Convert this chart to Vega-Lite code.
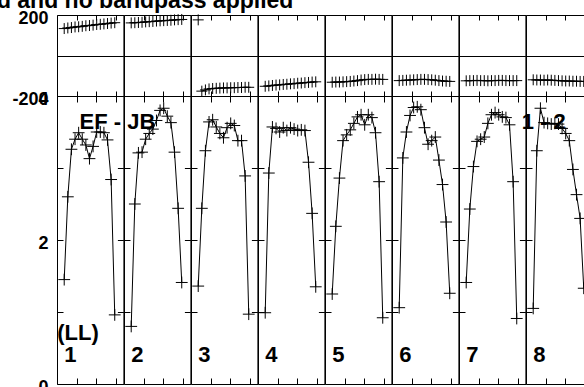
{
  "$schema": "https://vega.github.io/schema/vega-lite/v6.json",
  "autosize": "none",
  "params": [{"name": "width", "value": 527}, {"name": "height", "value": 372}],
  "padding": {"left": 57, "top": 15, "right": 0, "bottom": 0},
  "background": "white",
  "data": {"values": [
    {"band":1,"chan":1,"amp":1.45,"phase":133},{"band":1,"chan":2,"amp":2.60,"phase":136},{"band":1,"chan":3,"amp":3.26,"phase":138},{"band":1,"chan":4,"amp":3.40,"phase":141},{"band":1,"chan":5,"amp":3.49,"phase":142},{"band":1,"chan":6,"amp":3.40,"phase":144},{"band":1,"chan":7,"amp":3.32,"phase":147},{"band":1,"chan":8,"amp":3.13,"phase":148},{"band":1,"chan":9,"amp":3.30,"phase":150},{"band":1,"chan":10,"amp":3.50,"phase":153},{"band":1,"chan":11,"amp":3.50,"phase":154},{"band":1,"chan":12,"amp":3.49,"phase":156},{"band":1,"chan":13,"amp":3.39,"phase":158},{"band":1,"chan":14,"amp":2.84,"phase":160},{"band":1,"chan":15,"amp":0.96,"phase":162},
    {"band":2,"chan":1,"amp":0.80,"phase":161},{"band":2,"chan":2,"amp":2.50,"phase":162},{"band":2,"chan":3,"amp":3.21,"phase":163},{"band":2,"chan":4,"amp":3.22,"phase":164},{"band":2,"chan":5,"amp":3.40,"phase":166},{"band":2,"chan":6,"amp":3.48,"phase":167},{"band":2,"chan":7,"amp":3.54,"phase":168},{"band":2,"chan":8,"amp":3.66,"phase":170},{"band":2,"chan":9,"amp":3.80,"phase":171},{"band":2,"chan":10,"amp":3.83,"phase":172},{"band":2,"chan":11,"amp":3.72,"phase":173},{"band":2,"chan":12,"amp":3.63,"phase":174},{"band":2,"chan":13,"amp":3.22,"phase":176},{"band":2,"chan":14,"amp":2.44,"phase":177},{"band":2,"chan":15,"amp":1.41,"phase":178},
    {"band":3,"chan":1,"amp":1.36,"phase":176},{"band":3,"chan":2,"amp":2.44,"phase":-176},{"band":3,"chan":3,"amp":3.24,"phase":-170},{"band":3,"chan":4,"amp":3.64,"phase":-165},{"band":3,"chan":5,"amp":3.67,"phase":-163},{"band":3,"chan":6,"amp":3.57,"phase":-162},{"band":3,"chan":7,"amp":3.48,"phase":-161},{"band":3,"chan":8,"amp":3.42,"phase":-160},{"band":3,"chan":9,"amp":3.56,"phase":-160},{"band":3,"chan":10,"amp":3.62,"phase":-159},{"band":3,"chan":11,"amp":3.59,"phase":-159},{"band":3,"chan":12,"amp":3.38,"phase":-158},{"band":3,"chan":13,"amp":3.38,"phase":-158},{"band":3,"chan":14,"amp":2.89,"phase":-157},{"band":3,"chan":15,"amp":0.97,"phase":-157},
    {"band":4,"chan":1,"amp":0.99,"phase":-152},{"band":4,"chan":2,"amp":2.93,"phase":-150},{"band":4,"chan":3,"amp":3.57,"phase":-148},{"band":4,"chan":4,"amp":3.55,"phase":-146},{"band":4,"chan":5,"amp":3.50,"phase":-145},{"band":4,"chan":6,"amp":3.56,"phase":-143},{"band":4,"chan":7,"amp":3.52,"phase":-142},{"band":4,"chan":8,"amp":3.56,"phase":-140},{"band":4,"chan":9,"amp":3.54,"phase":-139},{"band":4,"chan":10,"amp":3.52,"phase":-137},{"band":4,"chan":11,"amp":3.53,"phase":-136},{"band":4,"chan":12,"amp":3.52,"phase":-134},{"band":4,"chan":13,"amp":3.08,"phase":-133},{"band":4,"chan":14,"amp":2.37,"phase":-131},{"band":4,"chan":15,"amp":1.35,"phase":-130},
    {"band":5,"chan":1,"amp":1.25,"phase":-132},{"band":5,"chan":2,"amp":2.19,"phase":-131},{"band":5,"chan":3,"amp":2.86,"phase":-131},{"band":5,"chan":4,"amp":3.38,"phase":-130},{"band":5,"chan":5,"amp":3.46,"phase":-129},{"band":5,"chan":6,"amp":3.53,"phase":-128},{"band":5,"chan":7,"amp":3.62,"phase":-126},{"band":5,"chan":8,"amp":3.71,"phase":-124},{"band":5,"chan":9,"amp":3.74,"phase":-121},{"band":5,"chan":10,"amp":3.60,"phase":-119},{"band":5,"chan":11,"amp":3.74,"phase":-118},{"band":5,"chan":12,"amp":3.70,"phase":-118},{"band":5,"chan":13,"amp":3.49,"phase":-117},{"band":5,"chan":14,"amp":2.81,"phase":-118},{"band":5,"chan":15,"amp":0.92,"phase":-118},
    {"band":6,"chan":1,"amp":1.06,"phase":-124},{"band":6,"chan":2,"amp":3.14,"phase":-123},{"band":6,"chan":3,"amp":3.50,"phase":-122},{"band":6,"chan":4,"amp":3.73,"phase":-121},{"band":6,"chan":5,"amp":3.84,"phase":-120},{"band":6,"chan":6,"amp":3.85,"phase":-119},{"band":6,"chan":7,"amp":3.81,"phase":-118},{"band":6,"chan":8,"amp":3.56,"phase":-118},{"band":6,"chan":9,"amp":3.33,"phase":-119},{"band":6,"chan":10,"amp":3.38,"phase":-120},{"band":6,"chan":11,"amp":3.43,"phase":-122},{"band":6,"chan":12,"amp":3.11,"phase":-124},{"band":6,"chan":13,"amp":2.77,"phase":-126},{"band":6,"chan":14,"amp":2.25,"phase":-127},{"band":6,"chan":15,"amp":1.26,"phase":-128},
    {"band":7,"chan":1,"amp":1.41,"phase":-125},{"band":7,"chan":2,"amp":2.43,"phase":-124},{"band":7,"chan":3,"amp":3.02,"phase":-124},{"band":7,"chan":4,"amp":3.37,"phase":-123},{"band":7,"chan":5,"amp":3.40,"phase":-124},{"band":7,"chan":6,"amp":3.43,"phase":-124},{"band":7,"chan":7,"amp":3.62,"phase":-125},{"band":7,"chan":8,"amp":3.74,"phase":-124},{"band":7,"chan":9,"amp":3.77,"phase":-124},{"band":7,"chan":10,"amp":3.74,"phase":-123},{"band":7,"chan":11,"amp":3.71,"phase":-123},{"band":7,"chan":12,"amp":3.70,"phase":-124},{"band":7,"chan":13,"amp":3.60,"phase":-124},{"band":7,"chan":14,"amp":2.81,"phase":-124},{"band":7,"chan":15,"amp":0.91,"phase":-124},
    {"band":8,"chan":1,"amp":1.05,"phase":-120},{"band":8,"chan":2,"amp":3.24,"phase":-121},{"band":8,"chan":3,"amp":3.83,"phase":-121},{"band":8,"chan":4,"amp":3.63,"phase":-122},{"band":8,"chan":5,"amp":3.62,"phase":-121},{"band":8,"chan":6,"amp":3.61,"phase":-122},{"band":8,"chan":7,"amp":3.62,"phase":-123},{"band":8,"chan":8,"amp":3.61,"phase":-124},{"band":8,"chan":9,"amp":3.55,"phase":-125},{"band":8,"chan":10,"amp":3.48,"phase":-126},{"band":8,"chan":11,"amp":3.38,"phase":-126},{"band":8,"chan":12,"amp":2.98,"phase":-127},{"band":8,"chan":13,"amp":2.63,"phase":-127},{"band":8,"chan":14,"amp":2.30,"phase":-128},{"band":8,"chan":15,"amp":1.33,"phase":-128}
  ]},
  "spacing": 81,
  "bounds": "flush",
  "vconcat": [
    {
      "facet": {"column": {"field": "band", "type": "ordinal", "header": null}},
      "spacing": 0,
      "bounds": "flush",
      "spec": {
        "width": 66.4,
        "height": 81,
        "encoding": {
          "x": {"field": "chan", "type": "quantitative", "scale": {"domain": [-1, 17.4], "nice": false, "zero": false},
                "axis": {"values": [4.47, 9.83, 15.3], "labels": false, "ticks": false, "domain": false, "title": null, "grid": true, "gridColor": "black", "gridWidth": 1, "gridDash": [5, 71], "gridOpacity": 1}},
          "y": {"field": "phase", "type": "quantitative", "scale": {"domain": [-200, 200], "nice": false, "zero": false},
                "axis": {"values": [-200, 0, 200], "labelExpr": "datum.value == 200 ? '200' : (datum.value == -200 ? '-200' : '')", "ticks": false, "domain": false, "title": null, "grid": true, "gridColor": "black", "gridWidth": 1, "gridOpacity": 1, "labelPadding": 9, "labelOffset": 3}}
        },
        "layer": [
          {"transform": [{"filter": "!(datum.band == 3 && datum.chan == 1)"}], "mark": {"type": "line", "color": "black", "strokeWidth": 1}},
          {"mark": {"type": "point", "shape": "M-1,0L1,0M0,-1L0,1", "size": 120, "filled": false, "color": "black", "strokeWidth": 1, "opacity": 1}},
          {"transform": [{"filter": "datum.band == 1 && datum.chan == 1"}],
           "mark": {"type": "text", "align": "right", "baseline": "alphabetic", "fontSize": 23, "fontWeight": "bold", "font": "Liberation Sans", "color": "black", "text": "Calibrated and no bandpass applied"},
           "encoding": {"x": {"datum": 64.5, "type": "quantitative"}, "y": {"datum": 234, "type": "quantitative"}}}
        ]
      }
    },
    {
      "facet": {"column": {"field": "band", "type": "ordinal", "header": null}},
      "spacing": 0,
      "bounds": "flush",
      "spec": {
        "width": 66.4,
        "height": 288,
        "encoding": {
          "x": {"field": "chan", "type": "quantitative", "scale": {"domain": [-1, 17.4], "nice": false, "zero": false},
                "axis": {"values": [4.47, 9.83, 15.3], "labels": false, "ticks": false, "domain": false, "title": null, "grid": true, "gridColor": "black", "gridWidth": 1, "gridDash": [6, 276], "gridOpacity": 1}},
          "y": {"field": "amp", "type": "quantitative", "scale": {"domain": [0, 4], "nice": false, "zero": false},
                "axis": {"values": [0, 1, 2, 3, 4], "labelExpr": "datum.value % 2 == 0 ? datum.label : ''", "ticks": false, "domain": false, "title": null, "grid": true, "gridColor": "black", "gridWidth": 1, "gridOpacity": 1, "gridDash": [6, 54.4], "labelPadding": 9, "labelOffset": 3}}
        },
        "layer": [
          {"mark": {"type": "line", "color": "black", "strokeWidth": 1}},
          {"mark": {"type": "point", "shape": "M-1,0L1,0M0,-1L0,1", "size": 140, "filled": false, "color": "black", "strokeWidth": 1, "opacity": 1}},
          {"transform": [{"filter": "datum.chan == 1"}],
           "mark": {"type": "text", "align": "left", "baseline": "alphabetic", "fontSize": 22, "fontWeight": "bold", "font": "Liberation Sans", "color": "black"},
           "encoding": {"x": {"datum": 1.0, "type": "quantitative"}, "y": {"datum": 0.31, "type": "quantitative"}, "text": {"field": "band", "type": "nominal"}}},
          {"transform": [{"filter": "datum.band == 1 && datum.chan == 1"}],
           "mark": {"type": "text", "align": "left", "baseline": "alphabetic", "fontSize": 22, "fontWeight": "bold", "font": "Liberation Sans", "color": "black", "text": "(LL)"},
           "encoding": {"x": {"datum": -0.92, "type": "quantitative"}, "y": {"datum": 0.61, "type": "quantitative"}}},
          {"transform": [{"filter": "datum.band == 1 && datum.chan == 1"}],
           "mark": {"type": "text", "align": "left", "baseline": "alphabetic", "fontSize": 22, "fontWeight": "bold", "font": "Liberation Sans", "color": "black", "text": "EF - JB"},
           "encoding": {"x": {"datum": 5.25, "type": "quantitative"}, "y": {"datum": 3.54, "type": "quantitative"}}},
          {"transform": [{"filter": "datum.band == 8 && datum.chan == 1"}],
           "mark": {"type": "text", "align": "left", "baseline": "alphabetic", "fontSize": 22, "fontWeight": "bold", "font": "Liberation Sans", "color": "black", "text": "1 - 2"},
           "encoding": {"x": {"datum": -2.19, "type": "quantitative"}, "y": {"datum": 3.54, "type": "quantitative"}}}
        ]
      }
    }
  ],
  "config": {
    "view": {"stroke": "black", "strokeWidth": 1},
    "axis": {"labelFont": "Liberation Sans", "labelFontWeight": "bold", "labelFontSize": 18, "labelColor": "black"}
  }
}
